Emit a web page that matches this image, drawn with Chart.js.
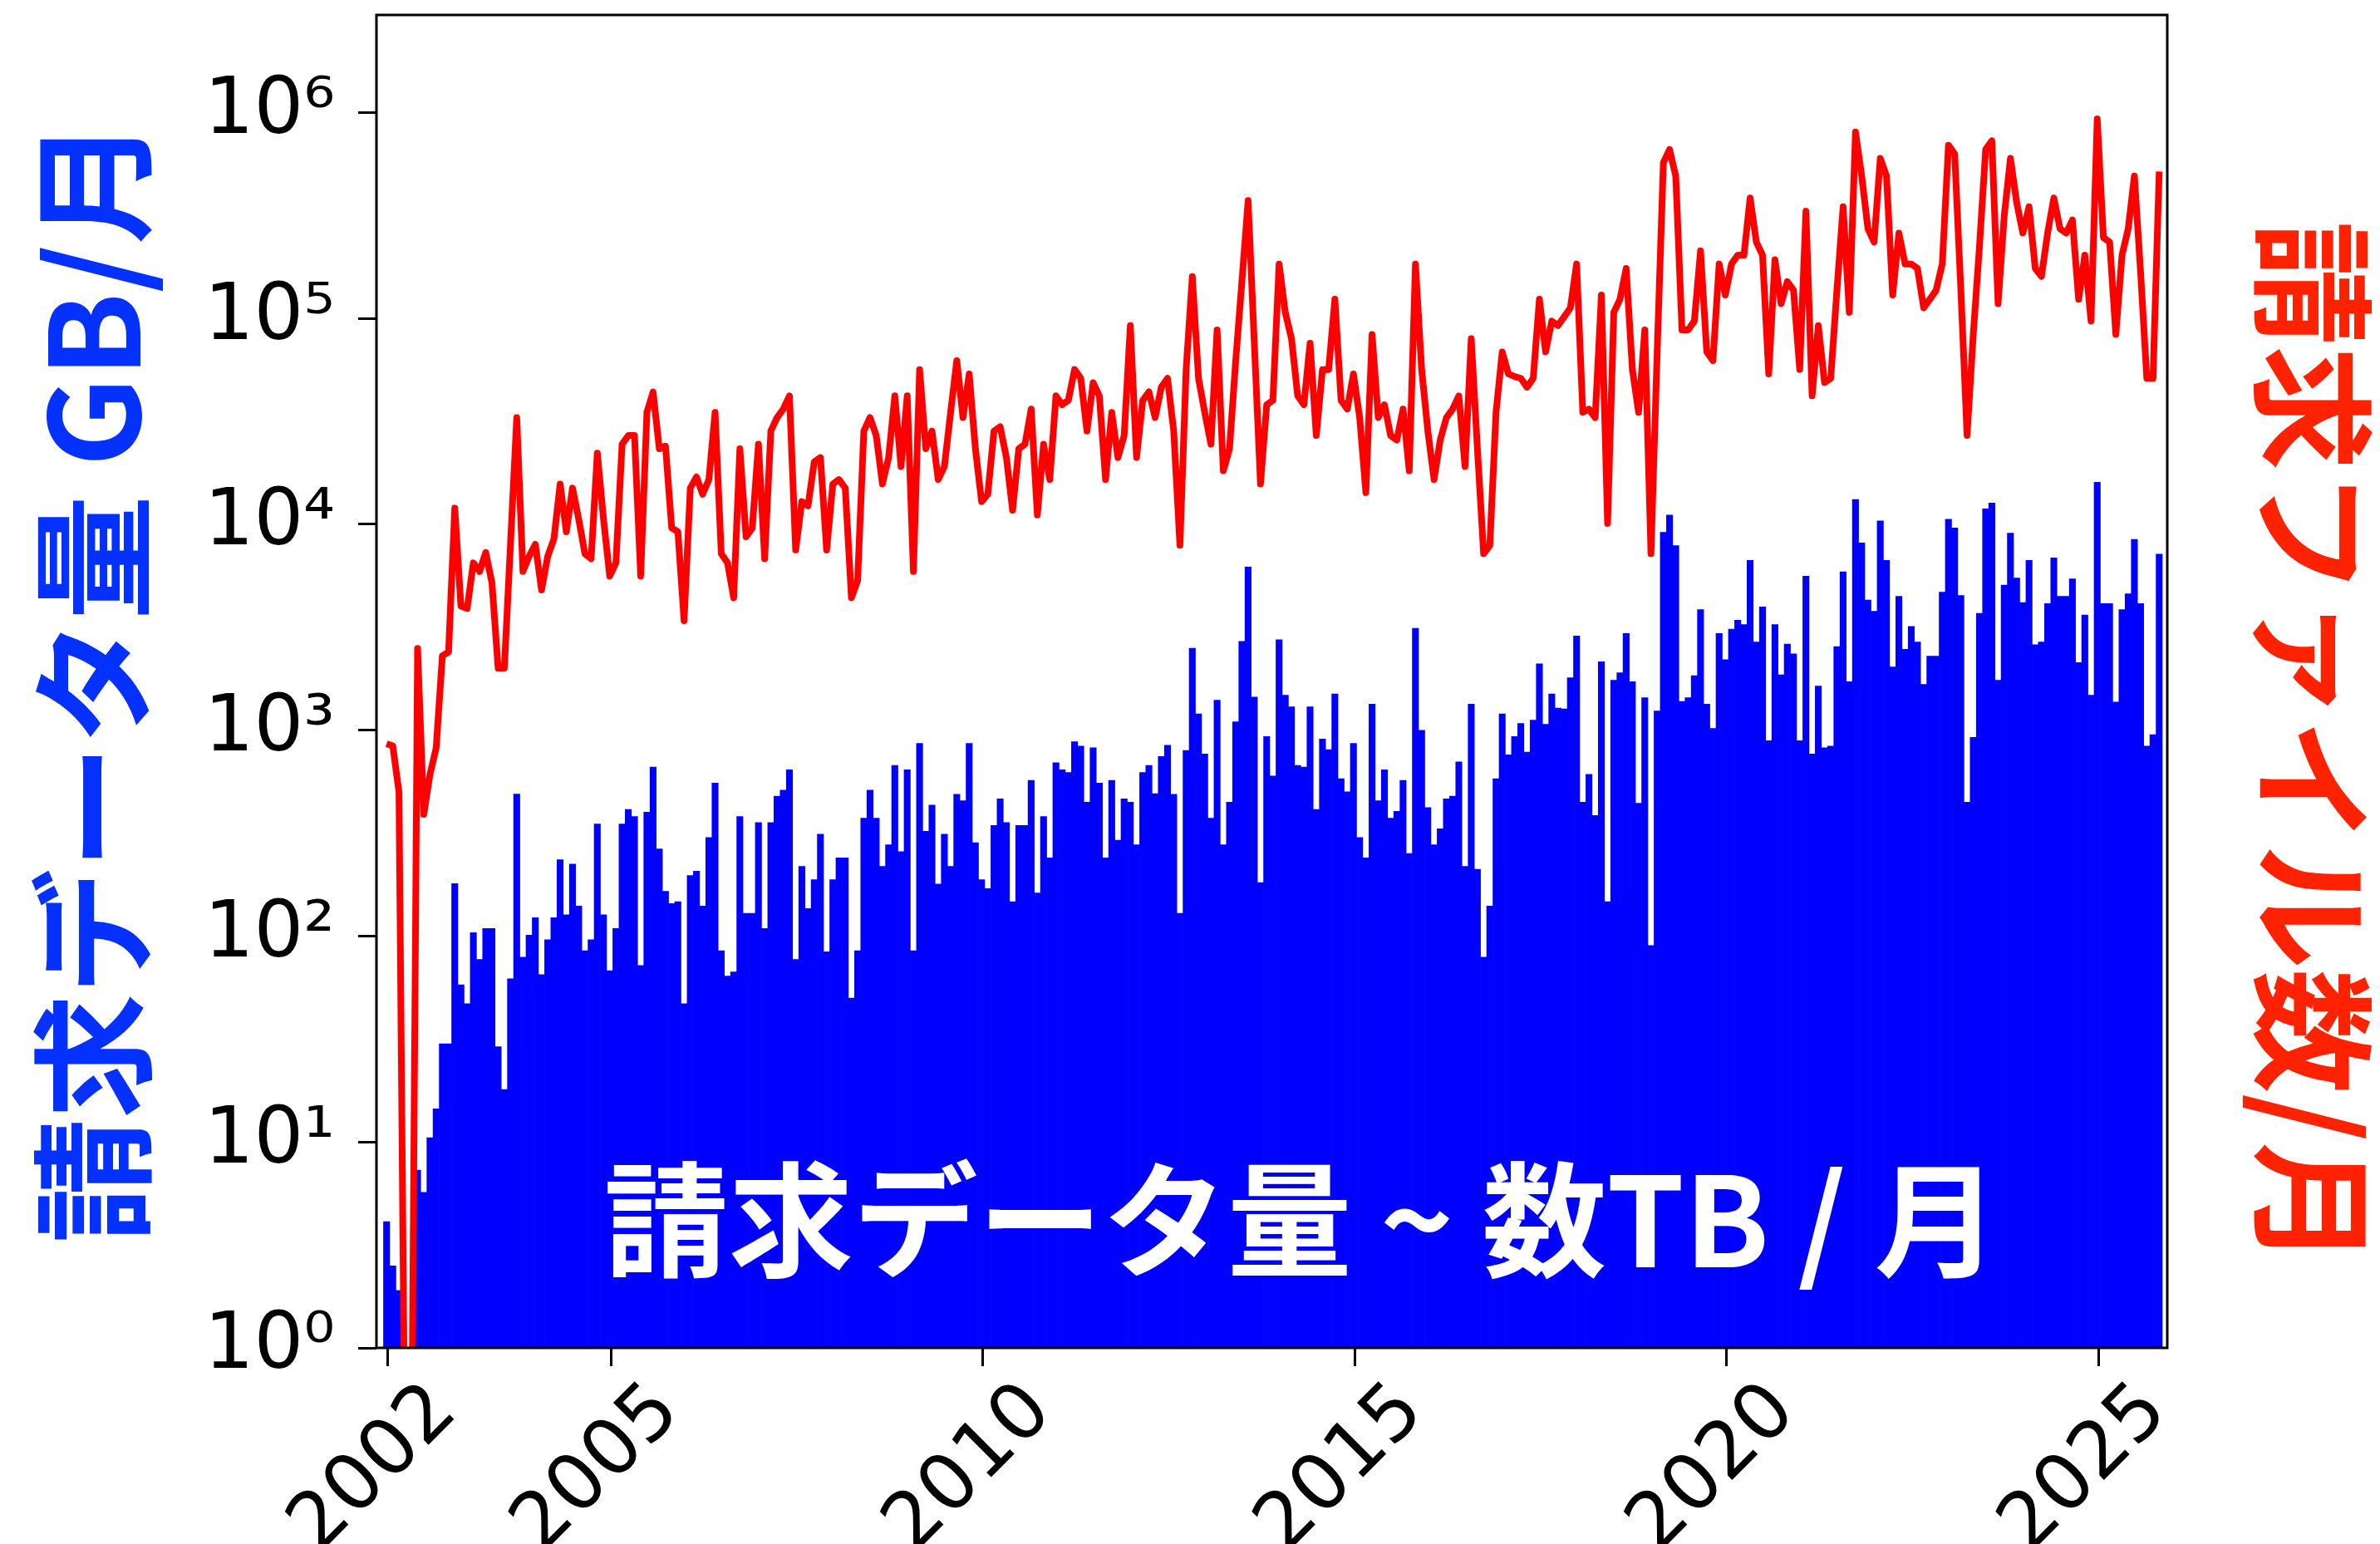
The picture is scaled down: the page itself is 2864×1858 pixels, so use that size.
<!DOCTYPE html>
<html>
<head>
<meta charset="utf-8">
<title>請求データ量 / 請求ファイル数</title>
<script src="https://cdn.jsdelivr.net/npm/chart.js@4.4.1/dist/chart.umd.min.js"></script>
<style>
  html, body { margin: 0; padding: 0; background: #fff; }
</style>
</head>
<body>
<canvas id="chart" width="2864" height="1858"></canvas>
<script>
// monthly values, one row per year, starting Jan 2002
const firstYear = 2002;

// requested data volume, GB / month (blue bars)
const gbPerMonth = [
  4.1, 2.5, 1.9, null, null, 7.3, 5.7, 10.5, 14.5, 30, 30, 180,
  58, 47, 104, 77, 109, 109, 29, 18, 62, 490, 79, 101,
  123, 65, 96, 123, 235, 127, 224, 140, 85, 96, 350, 127,
  68, 109, 350, 412, 381, 72, 400, 662, 265, 165, 144, 147,
  47, 197, 207, 140, 301, 554, 85, 64, 67, 381, 129, 129,
  356, 109, 356, 478, 512, 642, 77, 218, 136, 188, 313, 84,
  188, 240, 240, 50, 85, 374, 512, 374, 218, 278, 675, 257,
  642, 85, 863, 323, 433, 179, 313, 218, 488, 455, 863, 284,
  188, 170, 345, 464, 356, 147, 345, 345, 571, 162, 381, 240,
  695, 642, 624, 880, 837, 447, 822, 554, 240, 571, 292, 464,
  447, 278, 624, 675, 492, 745, 846, 488, 129, 798, 2500, 1200,
  767, 374, 1400, 278, 447, 1100, 2700, 6200, 1450, 182, 933, 600,
  2750, 1480, 1300, 675, 662, 1300, 412, 906, 805, 1500, 582, 502,
  863, 301, 240, 1340, 455, 642, 374, 404, 571, 252, 3130, 1000,
  421, 278, 332, 464, 478, 702, 218, 1340, 211, 79, 140, 582,
  1200, 759, 933, 1080, 782, 1120, 2100, 1070, 1500, 1280, 1270, 1800,
  2870, 447, 611, 385, 2150, 147, 1750, 1900, 2950, 1720, 442, 1440,
  90, 1240, 9150, 11100, 7890, 1380, 1440, 1840, 3850, 1340, 1020, 2950,
  2200, 3100, 3420, 3260, 6680, 2680, 3970, 889, 3260, 1860, 2620, 2350,
  889, 5600, 767, 1640, 822, 837, 2550, 5880, 1720, 13200, 8130, 4290,
  3780, 10400, 6680, 2030, 4470, 2470, 3190, 2680, 1670, 2290, 2290, 4690,
  10600, 9610, 4510, 447, 924, 3700, 11900, 12700, 1750, 5070, 9060, 5490,
  4170, 6680, 2600, 2680, 4120, 6880, 4470, 4470, 5430, 2130, 3630, 1480,
  16000, 4120, 4120, 1370, 3850, 4600, 8460, 4120, 837, 952, 7160
];

// requested files / month (red line)
const filesPerMonth = [
  860, 840, 500, 0.2, 0.2, 2500, 390, 610, 820, 2300, 2400, 12000,
  4000, 3900, 6500, 5900, 7300, 5200, 2000, 2000, 8100, 33000, 5900, 7000,
  8000, 4800, 7000, 8500, 15700, 9200, 15000, 10600, 7200, 6800, 22200, 10600,
  5600, 6500, 24500, 27000, 27000, 5600, 35000, 44000, 23300, 24000, 9600, 9200,
  3400, 15000, 17000, 14000, 16500, 35000, 7200, 6500, 4400, 23300, 8700, 9600,
  24500, 6800, 28400, 33000, 36300, 42100, 7500, 12900, 12300, 20100, 21100, 7500,
  15700, 16500, 15000, 4400, 5330, 28400, 33000, 27000, 15700, 21100, 42100, 19100,
  42100, 5900, 56500, 23300, 28400, 16500, 19100, 35000, 62400, 33000, 53800, 23300,
  12900, 14000, 28400, 29800, 21100, 11700, 23300, 24500, 36300, 11100, 24500, 16500,
  42100, 38100, 40000, 56500, 51200, 28400, 48800, 42100, 16500, 35000, 21100, 27000,
  92400, 21100, 40000, 44000, 33000, 46400, 51200, 28400, 7900, 56500, 160000, 51200,
  35000, 24500, 88000, 18200, 23300, 62400, 151000, 374000, 75900, 15700, 38100, 40000,
  184000, 107000, 79800, 42100, 38100, 75900, 27000, 56500, 56500, 124000, 40000, 36300,
  53800, 33000, 14250, 83700, 33000, 38100, 27000, 25700, 36300, 18200, 184000, 56500,
  28400, 16500, 25700, 33000, 36300, 42100, 19100, 79800, 23300, 7200, 7900, 35000,
  68800, 53800, 52200, 51200, 46400, 51200, 124000, 68800, 97100, 92400, 102000, 112600,
  184000, 35000, 36300, 33000, 130000, 10100, 107000, 124000, 175000, 56500, 35000, 88000,
  7200, 68800, 571000, 662000, 492000, 88000, 88000, 97100, 213000, 68800, 62400, 184000,
  130000, 184000, 203000, 203000, 385000, 235000, 203000, 53800, 193000, 118000, 151000, 137000,
  56500, 332000, 42100, 92400, 48800, 51200, 137000, 349000, 107000, 805000, 492000, 273000,
  235000, 600000, 492000, 130000, 260000, 184000, 184000, 175000, 112600, 124000, 137000, 184000,
  695000, 630000, 137000, 27000, 83700, 224000, 662000, 730000, 118000, 316000, 600000, 366000,
  260000, 349000, 175000, 160000, 260000, 385000, 273000, 260000, 301000, 124000, 203000, 97100,
  933000, 247000, 235000, 83700, 203000, 273000, 492000, 167000, 51200, 51200, 517000
];

const yTicks = [1, 10, 100, 1000, 10000, 100000, 1000000];
const xTicks = [2002, 2005, 2010, 2015, 2020, 2025];
const supDigits = ['⁰', '¹', '²', '³', '⁴', '⁵', '⁶'];

// decimal-year position of each month (points sit just before the 1st)
const months = gbPerMonth.map((_, i) => firstYear + (i - 0.2) / 12);

const tickFont = { family: 'DejaVu Sans', size: 94 };
const titleFont = { family: 'Noto Sans CJK JP', size: 150, weight: 'bold', lineHeight: 1 };
const tickGrid = { display: true, drawOnChartArea: false, drawTicks: true, offset: false,
                   tickLength: 22, tickWidth: 3, tickColor: '#000' };

// fixed axis box sizes, no extra label padding around the plot
function fixBox(size) {
  return s => {
    if (s.isHorizontal()) s.height = size; else s.width = size;
    s.paddingTop = 0; s.paddingBottom = 0; s.paddingLeft = 0; s.paddingRight = 0;
  };
}

// box around the plot + the white note inside it
const framePlugin = {
  id: 'frame',
  afterDatasetsDraw(chart) {
    const { ctx, chartArea: a } = chart;
    ctx.save();
    ctx.fillStyle = '#ffffff';
    ctx.font = 'bold 150px "Noto Sans CJK JP"';
    ctx.textAlign = 'center';
    ctx.textBaseline = 'middle';
    ctx.fillText('請求データ量 ~ 数TB / 月', a.left + (a.right - a.left) * 0.5165, a.top + (a.bottom - a.top) * 0.904);
    ctx.strokeStyle = '#000';
    ctx.lineWidth = 3;
    ctx.strokeRect(a.left, a.top, a.right - a.left, a.bottom - a.top);
    ctx.restore();
  }
};

new Chart(document.getElementById('chart'), {
  type: 'bar',
  data: {
    datasets: [
      {
        type: 'line',
        label: '請求ファイル数/月',
        data: months.map((x, i) => ({ x: x, y: filesPerMonth[i] })),
        borderColor: '#ff0000',
        borderWidth: 8,
        borderJoinStyle: 'round',
        pointRadius: 0,
        tension: 0,
        order: 0
      },
      {
        type: 'bar',
        label: '請求データ量 GB/月',
        data: months.map((x, i) => ({ x: x, y: gbPerMonth[i] })),
        backgroundColor: '#0000ff',
        borderWidth: 0,
        barPercentage: 1,
        categoryPercentage: 1,
        order: 1
      }
    ]
  },
  options: {
    responsive: false,
    animation: false,
    devicePixelRatio: 1,
    layout: { padding: { top: 18, left: 0, right: 0, bottom: 0 } },
    plugins: { legend: { display: false }, tooltip: { enabled: false } },
    scales: {
      x: {
        type: 'linear',
        position: 'bottom',
        min: 2001.847,
        max: 2025.925,
        offset: false,
        afterBuildTicks: s => { s.ticks = xTicks.map(v => ({ value: v })); },
        afterFit: fixBox(236),
        grid: tickGrid,
        border: { display: false },
        ticks: {
          autoSkip: false,
          minRotation: 45,
          maxRotation: 45,
          padding: 0,
          labelOffset: 69,
          color: '#000',
          font: tickFont,
          callback: v => String(v)
        }
      },
      y: {
        type: 'logarithmic',
        position: 'left',
        min: 1,
        max: 2.98e6,
        afterBuildTicks: s => { s.ticks = yTicks.map(v => ({ value: v })); },
        afterFit: fixBox(453),
        grid: tickGrid,
        border: { display: false },
        ticks: {
          padding: 28,
          color: '#000',
          font: tickFont,
          callback: v => '10' + supDigits[Math.round(Math.log10(v))]
        },
        title: {
          display: true,
          text: '請求データ量 GB/月',
          color: '#0531ff',
          font: titleFont,
          padding: { top: 37, bottom: 0 }
        }
      },
      y2: {
        type: 'logarithmic',
        position: 'right',
        min: 1,
        max: 2.98e6,
        afterFit: fixBox(256),
        grid: { display: false },
        border: { display: false },
        ticks: { display: false },
        title: {
          display: true,
          // leading ideographic space pushes the label a little lower, as in the source
          text: '\u3000請求ファイル数/月',
          color: '#ff2200',
          font: titleFont,
          padding: { top: 6, bottom: 0 }
        }
      }
    }
  },
  plugins: [framePlugin]
});
</script>
</body>
</html>
